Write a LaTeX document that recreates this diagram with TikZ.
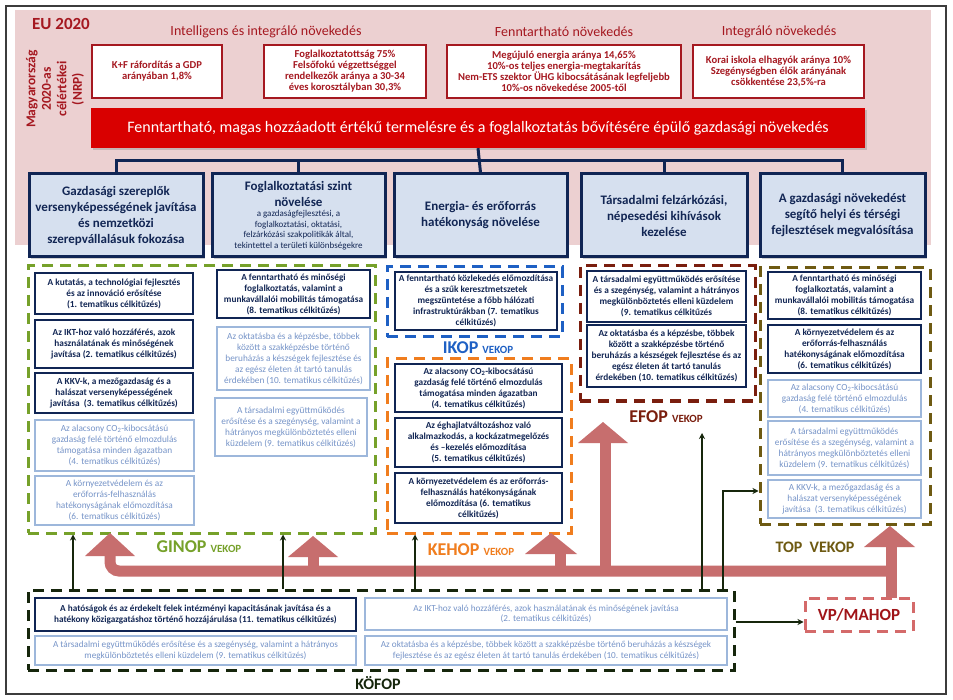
\documentclass[tikz,border=0pt]{standalone}
\usepackage{fontspec}
\setmainfont{Carlito}
\usetikzlibrary{arrows.meta,shadows}
\definecolor{framegray}{RGB}{60,60,60}
\definecolor{pinkbg}{RGB}{236,208,209}
\definecolor{dred}{RGB}{165,24,32}
\definecolor{bannerred}{RGB}{217,0,0}
\definecolor{navyb}{RGB}{16,37,84}
\definecolor{navyt}{RGB}{18,38,84}
\definecolor{hfill}{RGB}{214,224,239}
\definecolor{lblue}{RGB}{157,183,219}
\definecolor{ltext}{RGB}{118,148,200}
\definecolor{ggreen}{RGB}{118,161,42}
\definecolor{iblue}{RGB}{30,96,196}
\definecolor{korange}{RGB}{240,125,30}
\definecolor{ebrown}{RGB}{122,30,14}
\definecolor{tolive}{RGB}{110,90,18}
\definecolor{kdark}{RGB}{22,38,12}
\definecolor{pinkarrow}{RGB}{199,110,110}
\definecolor{vpred}{RGB}{212,106,106}
\definecolor{vptext}{RGB}{160,20,24}
\newcommand\fs[2]{\fontsize{#1}{#2}\selectfont}
\newcommand\bx[7]{\node[#2,minimum width={#5-#3},minimum height={#6-#4}] (#1) at ({(#3+#5)/2},{(#4+#6)/2}) {#7};}
\tikzset{
  redbox/.style={draw=dred,line width=2pt,fill=white,text=dred,font=\bfseries\fs{10.6}{11},align=center,inner sep=1pt},
  hbox/.style={draw=navyb,line width=3pt,fill=hfill,text=navyt,font=\bfseries\fs{13}{16},align=center,inner sep=1pt,
    drop shadow={opacity=0.35,shadow xshift=2pt,shadow yshift=-2pt}},
  nbox/.style={draw=navyb,line width=2.2pt,fill=white,text=navyt,font=\bfseries\fs{9.3}{11},align=center,inner sep=1pt},
  lbox/.style={draw=lblue,line width=2pt,fill=white,text=ltext,font=\fs{9.3}{11},align=center,inner sep=1pt},
  grp/.style={line width=3pt,dash pattern=on 11pt off 7pt,inner sep=0pt},
  gtitle/.style={text=dred,font=\fs{14}{16},inner sep=0pt},
  plabel/.style={inner sep=0pt,font=\bfseries},
  band/.style={draw=pinkarrow,line width=11pt},
  karrow/.style={draw=kdark,line width=1.4pt,-{Stealth[length=6pt,width=6pt]}},
  conn/.style={draw=navyb,line width=3pt},
}
\begin{document}
\begin{tikzpicture}[x=1pt,y=-1pt]
\useasboundingbox (0,0) rectangle (953,700);
\fill[white] (0,0) rectangle (953,700);
\draw[line width=2.5pt,framegray] (6,6) rectangle (946,694);
\fill[pinkbg] (15,10) rectangle (931,245);

% titles
\node[text=dred,font=\bfseries\fs{17}{19},inner sep=0pt] (eu) at (61,24) {EU 2020};
\node[gtitle] (t1) at (266,32) {Intelligens és integráló növekedés};
\node[gtitle] (t2) at (564,32) {Fenntartható növekedés};
\node[gtitle] (t3) at (779,32) {Integráló növekedés};
\node[rotate=90,text=dred,font=\bfseries\fs{13.5}{15.5},align=center,inner sep=0pt] (nrp) at (55,89) {Magyarország\\2020-as\\célértékei\\(NRP)};

% target boxes
\bx{r1}{redbox}{92}{45}{222}{98}{K+F ráfordítás a GDP\\arányában 1,8\%}
\bx{r2}{redbox}{264}{45}{426}{98}{Foglalkoztatottság 75\%\\Felsőfokú végzettséggel\\rendelkezők aránya a 30-34\\éves korosztályban 30,3\%}
\bx{r3}{redbox}{447}{45}{681}{98}{Megújuló energia aránya 14,65\%\\10\%-os teljes energia-megtakarítás\\Nem-ETS szektor ÜHG kibocsátásának legfeljebb\\10\%-os növekedése 2005-től}
\bx{r4}{redbox}{693}{45}{864}{98}{Korai iskola elhagyók aránya 10\%\\Szegénységben élők arányának\\csökkentése 23,5\%-ra}

% banner
\bx{banner}{fill=bannerred,text=white,font=\fs{16}{18},inner sep=0pt,drop shadow={opacity=0.35,shadow xshift=2pt,shadow yshift=-2pt}}{91}{108}{865}{148}{Fenntartható, magas hozzáadott értékű termelésre és a foglalkoztatás bővítésére épülő gazdasági növekedés}

% headers
\bx{h1}{hbox}{29}{174}{203}{257}{Gazdasági szereplők\\versenyképességének javítása\\és nemzetközi\\szerepvállalásuk fokozása}
\bx{h2}{hbox,text width=168pt,align=flush center}{212}{174}{385}{257}{Foglalkoztatási szint\\növelése\par{\mdseries\fs{9}{10.5}a gazdaságfejlesztési, a\\foglalkoztatási, oktatási,\\felzárkózási szakpolitikák által,\\tekintettel a területi különbségekre\par}}
\bx{h3}{hbox}{394}{174}{567}{257}{Energia- és erőforrás\\hatékonyság növelése}
\bx{h4}{hbox}{581}{174}{747}{257}{Társadalmi felzárkózási,\\népesedési kihívások\\kezelése}
\bx{h5}{hbox}{760}{174}{925}{257}{A gazdasági növekedést\\segítő helyi és térségi\\fejlesztések megvalósítása}
\draw[conn] (banner.south) -- (h3.north);
\draw[conn] (h1.north) -- ++(0,-12) -| (h5.north);
\draw[conn] (h2.north) -- ++(0,-12);
\draw[conn] (h4.north) -- ++(0,-12);

% group frames
\bx{ginop}{grp,draw=ggreen}{28}{266}{375}{533}{}
\bx{ikop}{grp,draw=iblue}{387}{267}{562}{337}{}
\bx{kehop}{grp,draw=korange}{387}{359}{571}{533}{}
\bx{efop}{grp,draw=ebrown}{580}{266}{755}{401}{}
\bx{top}{grp,draw=tolive}{760}{268}{930}{524}{}
\bx{kofop}{grp,draw=kdark}{28}{590}{734}{670}{}

% pink arrows
\draw[band,rounded corners=9pt] (110,550) -- (110,571) -- (891,571);
\draw[band] (891,545) -- (891,598);
\draw[band] (313,571) -- (313,555);
\draw[band] (560,571) -- (560,552);
\draw[band] (605,571) -- (605,441);
\fill[pinkarrow] (110,533) -- (135,556) -- (85,556) -- cycle;
\fill[pinkarrow] (313,536) -- (338,557) -- (288,557) -- cycle;
\fill[pinkarrow] (551,533) -- (577,554) -- (525,554) -- cycle;
\fill[pinkarrow] (603,422) -- (628,443) -- (578,443) -- cycle;
\fill[pinkarrow] (890,526) -- (915,547) -- (864,547) -- cycle;

\bx{vp}{grp,draw=vpred,fill=white,text=vptext,font=\bfseries\fs{17}{19}}{805}{598}{913}{631}{VP/MAHOP}

% GINOP
\bx{g1}{nbox}{35}{273}{193}{314}{A kutatás, a technológiai fejlesztés\\és az innováció erősítése\\(1. tematikus célkitűzés)}
\bx{g2}{nbox}{35}{320}{193}{368}{Az IKT-hoz való hozzáférés, azok\\használatának és minőségének\\javítása (2. tematikus célkitűzés)}
\bx{g3}{nbox}{35}{373}{193}{413}{A KKV-k, a mezőgazdaság és a\\halászat versenyképességének\\javítása \ (3. tematikus célkitűzés)}
\bx{g4}{lbox}{35}{420}{194}{471}{Az alacsony CO\textsubscript{2}-kibocsátású\\gazdaság felé történő elmozdulás\\támogatása minden ágazatban\\(4. tematikus célkitűzés)}
\bx{g5}{lbox}{35}{476}{194}{525}{A környezetvédelem és az\\erőforrás-felhasználás\\hatékonyságának előmozdítása\\(6. tematikus célkitűzés)}
\bx{g6}{nbox}{217}{270}{370}{318}{A fenntartható és minőségi\\foglalkoztatás, valamint a\\munkavállalói mobilitás támogatása\\(8. tematikus célkitűzés)}
\bx{g7}{lbox}{217}{327}{370}{390}{Az oktatásba és a képzésbe, többek\\között a szakképzésbe történő\\beruházás a készségek fejlesztése és\\az egész életen át tartó tanulás\\érdekében (10. tematikus célkitűzés)}
\bx{g8}{lbox}{215}{398}{367}{456}{A társadalmi együttműködés\\erősítése és a szegénység, valamint a\\hátrányos megkülönböztetés elleni\\küzdelem (9. tematikus célkitűzés)}

% IKOP
\bx{i1}{nbox}{395}{272}{557}{330}{A fenntartható közlekedés előmozdítása\\és a szűk keresztmetszetek\\megszüntetése a főbb hálózati\\infrastruktúrákban (7. tematikus\\célkitűzés)}

% KEHOP
\bx{k1}{nbox}{395}{364}{562}{412}{Az alacsony CO\textsubscript{2}-kibocsátású\\gazdaság felé történő elmozdulás\\támogatása minden ágazatban\\(4. tematikus célkitűzés)}
\bx{k2}{nbox}{395}{418}{562}{467}{Az éghajlatváltozáshoz való\\alkalmazkodás, a kockázatmegelőzés\\és –kezelés előmozdítása\\(5. tematikus célkitűzés)}
\bx{k3}{nbox}{395}{473}{562}{523}{A környezetvédelem és az erőforrás-\\felhasználás hatékonyságának\\előmozdítása (6. tematikus\\célkitűzés)}

% EFOP
\bx{e1}{nbox}{587}{271}{746}{322}{A társadalmi együttműködés erősítése\\és a szegénység, valamint a hátrányos\\megkülönböztetés elleni küzdelem\\(9. tematikus célkitűzés}
\bx{e2}{nbox}{587}{325}{746}{387}{Az oktatásba és a képzésbe, többek\\között a szakképzésbe történő\\beruházás a készségek fejlesztése és az\\egész életen át tartó tanulás\\érdekében (10. tematikus célkitűzés)}

% TOP
\bx{p1}{nbox}{768}{272}{921}{319}{A fenntartható és minőségi\\foglalkoztatás, valamint a\\munkavállalói mobilitás támogatása\\(8. tematikus célkitűzés)}
\bx{p2}{nbox}{768}{325}{921}{373}{A környezetvédelem és az\\erőforrás-felhasználás\\hatékonyságának előmozdítása\\(6. tematikus célkitűzés)}
\bx{p3}{lbox}{768}{380}{921}{417}{Az alacsony CO\textsubscript{2}-kibocsátású\\gazdaság felé történő elmozdulás\\(4. tematikus célkitűzés)}
\bx{p4}{lbox}{768}{421}{921}{475}{A társadalmi együttműködés\\erősítése és a szegénység, valamint a\\hátrányos megkülönböztetés elleni\\küzdelem (9. tematikus célkitűzés)}
\bx{p5}{lbox}{768}{480}{921}{518}{A KKV-k, a mezőgazdaság és a\\halászat versenyképességének\\javítása \ (3. tematikus célkitűzés)}

% KOFOP
\bx{f1}{nbox,font=\bfseries\fs{9.2}{10.6}}{35}{598}{356}{631}{A hatóságok és az érdekelt felek intézményi kapacitásának javítása és a\\hatékony közigazgatáshoz történő hozzájárulása (11. tematikus célkitűzés)}
\bx{f2}{lbox,font=\fs{9.2}{10.4}}{35}{636}{356}{665}{A társadalmi együttműködés erősítése és a szegénység, valamint a hátrányos\\megkülönböztetés elleni küzdelem (9. tematikus célkitűzés)}
\bx{f3}{lbox,font=\fs{9.2}{10.4}}{365}{598}{727}{630}{Az IKT-hoz való hozzáférés, azok használatának és minőségének javítása\\(2. tematikus célkitűzés)}
\bx{f4}{lbox,font=\fs{9.2}{10.4}}{365}{636}{727}{665}{Az oktatásba és a képzésbe, többek között a szakképzésbe történő beruházás a készségek\\fejlesztése és az egész életen át tartó tanulás érdekében (10. tematikus célkitűzés)}

% program labels
\node[plabel,text=ggreen] (lg) at (199,547) {\fs{18}{18}GINOP \fs{11}{11}VEKOP};
\node[plabel,text=iblue] (li) at (478,348) {\fs{18}{18}IKOP \fs{11}{11}VEKOP};
\node[plabel,text=korange] (lk) at (471,550) {\fs{18}{18}KEHOP \fs{11}{11}VEKOP};
\node[plabel,text=ebrown] (le) at (666,417) {\fs{18}{18}EFOP \fs{11}{11}VEKOP};
\node[plabel,text=tolive] (lt) at (815,547) {\fs{16}{16}TOP \ VEKOP};
\node[plabel,text=kdark,font=\bfseries\fs{16}{16}] (lf) at (378,683) {KÖFOP};

% thin arrows
\coordinate (c1) at (73,0);
\coordinate (c2) at (283,0);
\coordinate (c3) at (415,0);
\coordinate (c4) at (702,433);
\coordinate (c5) at (723,491);
\coordinate (c6) at (0,622);
\draw[karrow] (kofop.north -| c1) -- (ginop.south -| c1);
\draw[karrow] (kofop.north -| c2) -- (ginop.south -| c2);
\draw[karrow] (kofop.north -| c3) -- (kehop.south -| c3);
\draw[karrow] (kofop.north -| c4) -- (c4);
\draw[karrow] (kofop.north -| c5) |- (top.west |- c5);
\draw[karrow] (kofop.east |- c6) -- (vp.west |- c6);
\end{tikzpicture}
\end{document}
